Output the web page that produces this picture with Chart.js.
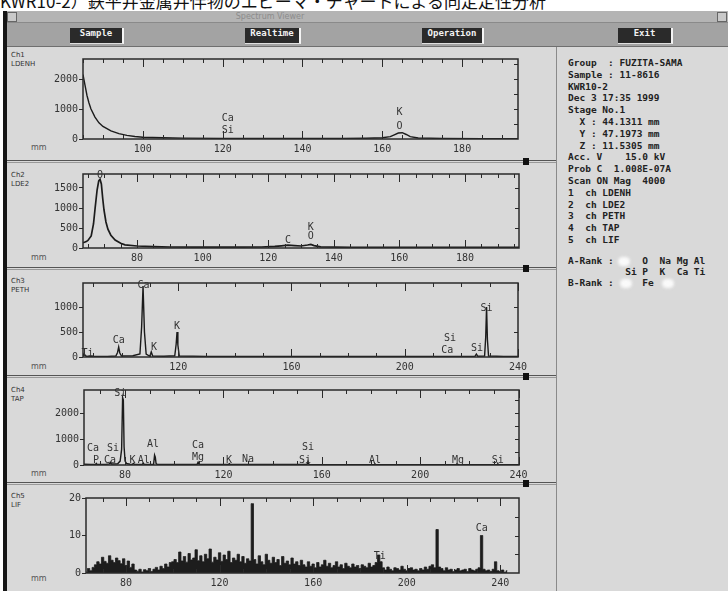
<!DOCTYPE html>
<html lang="ja">
<head>
<meta charset="utf-8">
<title>EPMA spectrum</title>
<script src="https://cdn.jsdelivr.net/npm/chart.js@4.4.1/dist/chart.umd.min.js"></script>
<style>
body { margin:0; width:728px; height:591px; overflow:hidden; background:#fff; position:relative; font-family:'DejaVu Sans Mono', monospace; }
.abs { position:absolute; }
#caption { left:0; top:-12px; font:17px 'Noto Sans CJK JP'; white-space:nowrap; color:#111; }
#win { left:3px; top:11px; width:725px; height:580px; background:#d9d9d9; border-left:4px solid #161616; box-sizing:border-box; }
#titlebar { left:7px; top:11px; width:721px; height:11px; background:#b4b4b4; border-bottom:1px solid #8a8a8a; }
#titletext { left:200px; top:11px; width:140px; font:8px 'DejaVu Sans'; color:#8c8c8c; text-align:center; line-height:11px; }
.tbtn { top:12px; width:8px; height:8px; border:1px solid #666; background:#c9c9c9; }
#menubar { left:7px; top:23px; width:721px; height:23px; background:#a3a3a3; border-bottom:1px solid #6f6f6f; }
.btn { top:28px; height:15px; line-height:15px; background:#2a2a2a; color:#f2f2f2; font:bold 9px 'DejaVu Sans Mono'; text-align:center; border-right:2px solid #f4f4f4; border-bottom:1px solid #e0e0e0; }
#side { left:556px; top:47px; width:1px; height:544px; background:#8a8a8a; }
.sep { left:7px; width:549px; height:1px; border-top:1px solid #555; border-bottom:1px solid #999; }
.mark { left:523px; width:6px; height:7px; background:#111; }
.chl { left:11px; font:7px/9px 'DejaVu Sans'; color:#333; }
.mm { left:31px; font:8px 'DejaVu Sans'; color:#555; }
canvas { position:absolute; left:0; }
.info { left:568px; margin:0; font:bold 9.5px 'DejaVu Sans Mono'; color:#222; }
.blot { width:12px; height:9px; background:#fafafa; border-radius:5px; filter:blur(1.5px); }
</style>
</head>
<body>
<div id="caption" class="abs">KWR10-2）鉄平井金属井伴物のエピーマ・チャートによる同定定性分析</div>
<div id="win" class="abs"></div>
<div id="titlebar" class="abs"></div>
<div id="titletext" class="abs">Spectrum Viewer</div>
<div class="abs tbtn" style="left:7px"></div>
<div class="abs tbtn" style="left:717px"></div>
<div id="menubar" class="abs"></div>
<div class="abs btn" style="left:70px;width:52px">Sample</div>
<div class="abs btn" style="left:245px;width:54px">Realtime</div>
<div class="abs btn" style="left:422px;width:60px">Operation</div>
<div class="abs btn" style="left:618px;width:53px">Exit</div>
<div id="side" class="abs"></div>

<div class="abs sep" style="top:160px"></div>
<div class="abs sep" style="top:267px"></div>
<div class="abs sep" style="top:375px"></div>
<div class="abs sep" style="top:482px"></div>
<div class="abs mark" style="top:158px"></div>
<div class="abs mark" style="top:265px"></div>
<div class="abs mark" style="top:373px"></div>
<div class="abs mark" style="top:480px"></div>

<div class="abs chl" style="top:51px">Ch1<br>LDENH</div>
<div class="abs chl" style="top:171px">Ch2<br>LDE2</div>
<div class="abs chl" style="top:277px">Ch3<br>PETH</div>
<div class="abs chl" style="top:386px">Ch4<br>TAP</div>
<div class="abs chl" style="top:492px">Ch5<br>LIF</div>
<div class="abs mm" style="top:143px">mm</div>
<div class="abs mm" style="top:253px">mm</div>
<div class="abs mm" style="top:362px">mm</div>
<div class="abs mm" style="top:469px">mm</div>
<div class="abs mm" style="top:574px">mm</div>

<canvas id="c1" width="560" height="112" style="top:48px"></canvas>
<canvas id="c2" width="560" height="105" style="top:163px"></canvas>
<canvas id="c3" width="560" height="106" style="top:270px"></canvas>
<canvas id="c4" width="560" height="105" style="top:378px"></canvas>
<canvas id="c5" width="560" height="106" style="top:485px"></canvas>

<pre class="abs info" style="top:57px;line-height:11.8px">Group  : FUZITA-SAMA
Sample : 11-8616
KWR10-2
Dec 3 17:35 1999
Stage No.1
  X : 44.1311 mm
  Y : 47.1973 mm
  Z : 11.5305 mm
Acc. V    15.0 kV
Prob C  1.008E-07A
Scan ON Mag  4000
1  ch LDENH
2  ch LDE2
3  ch PETH
4  ch TAP
5  ch LIF</pre>
<pre class="abs info" style="top:256px;line-height:10.8px">A-Rank :     O  Na Mg Al
          Si P  K  Ca Ti
B-Rank :     Fe</pre>
<div class="abs blot" style="left:618px;top:257px"></div>
<div class="abs blot" style="left:620px;top:279px"></div>
<div class="abs blot" style="left:662px;top:279px"></div>

<script>
// Ch1 LDENH
const ldenhX = [85, 85.5, 86, 86.5, 87, 88, 89, 90, 92, 94, 96, 98, 100, 105, 110, 120, 130, 140, 150, 156, 160, 162, 163, 164, 165, 166, 167, 169, 175, 185, 194];
const ldenhY = [2150, 1800, 1450, 1200, 1000, 730, 540, 420, 270, 180, 120, 85, 60, 40, 30, 22, 18, 15, 18, 25, 40, 80, 140, 200, 210, 150, 80, 35, 18, 12, 10];
const ldenhXTicks = [100, 120, 140, 160, 180];
const ldenhYTicks = [0, 1000, 2000];
const ldenhNames = ['Ca', 'Si', 'K', 'O'];
const ldenhNameX = [121.3, 121.3, 164.3, 164.3];
const ldenhNameY = [670, 300, 870, 430];

// Ch2 LDE2
const lde2X = [63.5, 64.5, 65, 66, 66.7, 67.2, 67.8, 68.3, 68.7, 69.1, 69.5, 69.9, 70.5, 71.1, 72, 73.3, 75, 76.3, 80, 85, 90, 100, 110, 118, 122, 124, 126, 128, 130, 132, 133, 134, 136, 145, 160, 180, 196.5];
const lde2Y = [130, 160, 190, 300, 600, 1000, 1450, 1680, 1720, 1600, 1250, 950, 650, 470, 320, 200, 120, 80, 50, 35, 25, 20, 20, 25, 40, 55, 70, 60, 50, 75, 90, 60, 30, 15, 15, 15, 15];
const lde2XTicks = [80, 100, 120, 140, 160, 180];
const lde2YTicks = [0, 500, 1000, 1500];
const lde2Names = ['O', 'C', 'K', 'O'];
const lde2NameX = [68.7, 126, 133, 133];
const lde2NameY = [1825, 200, 525, 300];

// Ch3 PETH
const pethX = [86.4, 86.8, 87.2, 87.6, 88.5, 95, 98, 98.6, 99, 99.4, 100, 104, 106.5, 107.1, 107.6, 108.1, 108.7, 110, 110.5, 111, 115, 118.8, 119.3, 119.6, 119.9, 120.4, 130, 160, 200, 215, 224.8, 225.3, 225.8, 228.2, 228.6, 228.9, 229.2, 229.6, 235, 240];
const pethY = [20, 70, 30, 15, 10, 12, 20, 90, 200, 80, 20, 25, 60, 600, 1420, 500, 60, 15, 100, 20, 15, 25, 260, 500, 240, 20, 12, 10, 10, 12, 15, 60, 15, 20, 400, 1000, 350, 20, 10, 10];
const pethXTicks = [120, 160, 200, 240];
const pethYTicks = [0, 500, 1000];
const pethNames = ['Ti', 'Ca', 'Ca', 'K', 'K', 'Si', 'Si', 'Ca', 'Si'];
const pethNameX = [88, 99, 107.8, 111.5, 119.6, 228.9, 216, 215, 225.5];
const pethNameY = [80, 340, 1440, 200, 620, 980, 380, 140, 180];

// Ch4 TAP
const tapX = [63.3, 66, 68, 68.3, 68.6, 72, 73.6, 74, 74.4, 77, 78, 78.6, 79.0, 79.3, 79.6, 80.0, 80.6, 82, 83, 83.4, 83.8, 87, 87.4, 87.8, 91.6, 92.0, 92.3, 92.6, 93, 100, 109.3, 109.7, 110.1, 122, 122.4, 122.8, 130, 150, 154, 154.4, 154.8, 170, 181.3, 181.6, 181.9, 200, 214.7, 215, 215.3, 231.3, 231.6, 231.9, 240.2];
const tapY = [30, 20, 20, 60, 20, 25, 40, 100, 40, 50, 150, 600, 2600, 2500, 700, 150, 60, 30, 25, 60, 25, 25, 70, 25, 30, 380, 300, 60, 25, 20, 25, 110, 25, 20, 50, 20, 20, 20, 20, 140, 20, 15, 15, 50, 15, 15, 15, 50, 15, 15, 50, 15, 15];
const tapXTicks = [80, 120, 160, 200, 240];
const tapYTicks = [0, 1000, 2000];
const tapNames = ['Ca', 'Si', 'P', 'Ca', 'Si', 'K', 'Al', 'Al', 'Ca', 'Mg', 'K', 'Na', 'Si', 'Si', 'Al', 'Mg', 'Si'];
const tapNameX = [67, 75.1, 68.2, 73.9, 78, 83, 87.6, 91.4, 109.7, 109.7, 122.3, 130, 154.4, 153.2, 181.6, 215.4, 231.6];
const tapNameY = [650, 650, 190, 190, 2770, 190, 190, 810, 770, 310, 190, 230, 690, 190, 190, 190, 190];

// Ch5 LIF, one count reading per mm starting at lifStart
const lifStart = 63;
const lifY = [
  0.3, 1.2, 0.6, 1.5,
  2.2, 3.0, 2.4, 4.2, 3.1, 2.6, 4.6, 3.4, 2.8, 4.0, 3.3, 2.5, 3.8, 2.0,
  3.2, 1.5, 2.4, 0.8,
  0.5, 1.0, 0.3, 0.9, 0.6, 1.2, 0.4, 1.0, 1.5, 0.8,
  1.8, 1.2, 2.4, 1.6, 2.8, 3.0,
  3.6, 2.8, 5.6, 3.2, 4.4, 2.9, 5.2, 3.5, 4.0, 6.2, 3.3, 4.6, 3.0, 5.0, 3.8, 6.4, 2.9, 4.2, 3.5, 5.4, 3.1, 4.8, 3.6, 5.8, 2.8, 4.0, 3.4, 5.0, 3.0, 4.4, 2.6, 3.8, 3.2,
  18.5,
  3.6, 2.4, 4.6, 3.0, 2.2, 5.0, 3.4, 2.6, 4.2, 2.8, 3.6, 2.0, 4.4, 2.6, 3.2, 2.2, 4.0, 2.4, 3.0, 2.0, 3.4,
  2.2, 1.6, 3.0, 1.8, 2.4, 1.4, 2.8, 1.6, 2.2, 3.4, 1.8, 2.6, 1.4, 2.0, 3.0, 1.6, 2.2, 1.2, 2.6, 1.8, 1.4, 2.4, 1.6, 2.0, 1.2, 2.2, 1.8, 1.4, 2.6, 1.6, 2.0, 2.8,
  4.8, 3.0,
  1.4, 0.8, 1.6, 1.0, 0.6, 1.4, 1.2, 0.8, 1.8, 1.0, 0.6, 1.2, 1.4, 0.8, 1.0, 0.6, 1.2, 0.8, 1.6, 1.0, 1.8, 2.2, 1.4,
  11.6, 1.6,
  1.2, 0.6, 1.4, 0.8, 1.0, 0.4, 0.8, 1.2, 0.6, 0.8, 1.0, 0.4, 1.2, 0.8, 0.6, 1.0, 1.4,
  10.0, 1.0,
  0.6, 0.8, 0.4, 1.0, 3.0, 0.6, 0.4, 0.8, 0.2, 0.6
];
const lifXTicks = [80, 120, 160, 200, 240];
const lifYTicks = [0, 10, 20];
const lifNames = ['Ti', 'Ca'];
const lifNameX = [188.5, 232.1];
const lifNameY = [4.3, 12];

Chart.defaults.font.family = "'DejaVu Sans Mono', monospace";
Chart.defaults.color = '#333';

// frame with inward ticks and peak names
const frameTicks = {
    id: 'frameTicks',
    afterDatasetsDraw(chart, args, o) {
        const { ctx, chartArea: a, scales: { x, y } } = chart;
        ctx.save();
        ctx.strokeStyle = '#2a2a2a';
        ctx.lineWidth = 1.5;
        ctx.strokeRect(a.left, a.top, a.right - a.left, a.bottom - a.top);
        ctx.lineWidth = 1;
        ctx.beginPath();
        for (let v = Math.ceil(x.min / o.xMinor) * o.xMinor; v <= x.max; v += o.xMinor) {
            const px = Math.round(x.getPixelForValue(v)) + 0.5;
            const len = v % o.xMajor === 0 ? 8 : 4;
            ctx.moveTo(px, a.top); ctx.lineTo(px, a.top + len);
            ctx.moveTo(px, a.bottom); ctx.lineTo(px, a.bottom - len);
        }
        for (let v = o.yMinor; v < y.max; v += o.yMinor) {
            const py = Math.round(y.getPixelForValue(v)) + 0.5;
            ctx.moveTo(a.right, py); ctx.lineTo(a.right - 4, py);
        }
        ctx.stroke();
        ctx.fillStyle = '#333';
        ctx.font = "10px 'DejaVu Sans Mono'";
        ctx.textAlign = 'center';
        ctx.textBaseline = 'middle';
        o.names.forEach((n, i) => {
            ctx.fillText(n, x.getPixelForValue(o.nameX[i]), y.getPixelForValue(o.nameY[i]));
        });
        ctx.restore();
    }
};

function makeChart(id, g, points, s) {
    const cv = document.getElementById(id);
    return new Chart(cv, {
        type: 'line',
        data: {
            datasets: [{
                data: points,
                borderColor: '#1b1b1b',
                borderWidth: s.width || 1.4,
                backgroundColor: '#1d1d1d',
                fill: s.fill ? 'origin' : false,
                stepped: s.stepped || false,
                pointRadius: 0,
                tension: 0,
            }]
        },
        options: {
            responsive: false,
            animation: false,
            devicePixelRatio: 1,
            layout: { padding: { left: 0, top: g.plotTop, right: cv.width - g.right, bottom: 0 } },
            plugins: {
                legend: { display: false },
                tooltip: { enabled: false },
                frameTicks: s,
            },
            scales: {
                x: {
                    type: 'linear',
                    min: s.xMin, max: s.xMax,
                    afterBuildTicks: sc => { sc.ticks = s.xTicks.map(v => ({ value: v })); },
                    afterFit: sc => { sc.height = cv.height - g.plotBottom; },
                    ticks: { padding: 4, maxRotation: 0, autoSkip: false, font: { size: 10 }, callback: v => String(v) },
                    grid: { display: false, drawTicks: false },
                    border: { display: false },
                },
                y: {
                    min: 0, max: s.yMax,
                    afterBuildTicks: sc => { sc.ticks = s.yTicks.map(v => ({ value: v })); },
                    afterFit: sc => { sc.width = g.left; },
                    ticks: { padding: 1, font: { size: 10 }, callback: v => String(v) },
                    grid: { display: true, drawOnChartArea: false, drawTicks: true, tickLength: 4, color: '#2a2a2a' },
                    border: { display: false },
                }
            }
        },
        plugins: [frameTicks]
    });
}

function pairs(xs, ys) {
    return xs.map((x, i) => ({ x, y: ys[i] }));
}

document.addEventListener('DOMContentLoaded', () => {
    makeChart('c1', { plotTop: 11, plotBottom: 91, left: 83, right: 518 }, pairs(ldenhX, ldenhY),
        { xMin: 85, xMax: 194, yMax: 2667, xTicks: ldenhXTicks, yTicks: ldenhYTicks, xMinor: 5, xMajor: 20, yMinor: 500,
          names: ldenhNames, nameX: ldenhNameX, nameY: ldenhNameY });
    makeChart('c2', { plotTop: 11, plotBottom: 85, left: 83, right: 519 }, pairs(lde2X, lde2Y),
        { xMin: 63.5, xMax: 196.5, yMax: 1850, xTicks: lde2XTicks, yTicks: lde2YTicks, xMinor: 5, xMajor: 20, yMinor: 500, width: 1.7,
          names: lde2Names, nameX: lde2NameX, nameY: lde2NameY });
    makeChart('c3', { plotTop: 13, plotBottom: 87, left: 83, right: 518 }, pairs(pethX, pethY),
        { xMin: 86.4, xMax: 240, yMax: 1480, xTicks: pethXTicks, yTicks: pethYTicks, xMinor: 10, xMajor: 40, yMinor: 500,
          names: pethNames, nameX: pethNameX, nameY: pethNameY });
    makeChart('c4', { plotTop: 12, plotBottom: 87, left: 84, right: 519 }, pairs(tapX, tapY),
        { xMin: 63.3, xMax: 240.2, yMax: 2885, xTicks: tapXTicks, yTicks: tapYTicks, xMinor: 10, xMajor: 40, yMinor: 500,
          names: tapNames, nameX: tapNameX, nameY: tapNameY });
    makeChart('c5', { plotTop: 13, plotBottom: 88, left: 86, right: 519 }, lifY.map((v, i) => ({ x: lifStart + i, y: v })),
        { xMin: 62.9, xMax: 248, yMax: 20, xTicks: lifXTicks, yTicks: lifYTicks, xMinor: 10, xMajor: 40, yMinor: 5, width: 0.8, fill: true, stepped: 'middle',
          names: lifNames, nameX: lifNameX, nameY: lifNameY });
});
</script>
</body>
</html>
